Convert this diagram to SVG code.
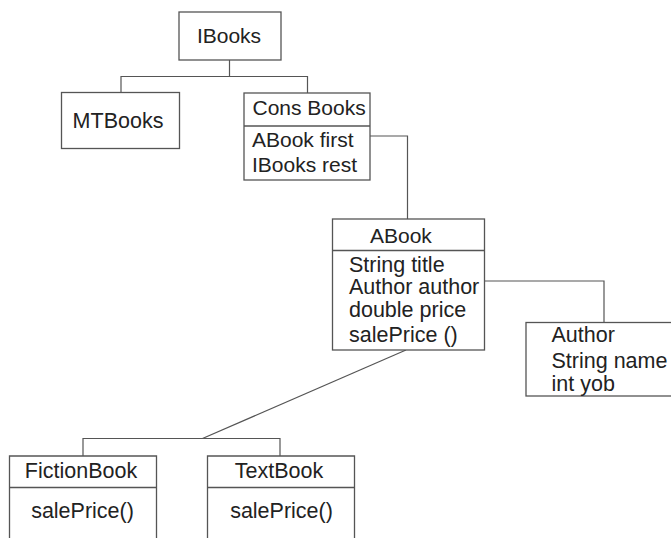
<svg xmlns="http://www.w3.org/2000/svg" width="671" height="538" viewBox="0 0 671 538">
  <style>
    .box { fill: #fff; stroke: #555; stroke-width: 1.3; }
    .sep { stroke: #555; stroke-width: 1.3; }
    .link { fill: none; stroke: #555; stroke-width: 1.2; }
    text { font-family: "Liberation Sans", Arial, sans-serif; font-size: 21px; fill: #222; }
    .c { text-anchor: middle; }
    .big { font-size: 21.5px; }
  </style>
  <rect width="671" height="538" fill="#fff"/>

  <g id="connectors">
    <!-- IBooks to its two variants -->
    <polyline class="link" points="229.5,60 229.5,76.5"/>
    <polyline class="link" points="121,92 121,76.5 307.5,76.5 307.5,93"/>
    <!-- ConsBooks.first to ABook -->
    <polyline class="link" points="370,136 407.5,136 407.5,219"/>
    <!-- ABook.author to Author -->
    <polyline class="link" points="484,281 604,281 604,322"/>
    <!-- ABook to its subclasses -->
    <line class="link" x1="406" y1="350" x2="202.5" y2="438.5"/>
    <polyline class="link" points="83,456 83,438.5 280,438.5 280,456"/>
  </g>

  <g id="IBooks">
    <rect class="box" x="179" y="12" width="102" height="48"/>
    <text class="c" x="229" y="43">IBooks</text>
  </g>

  <g id="MTBooks">
    <rect class="box" x="61.5" y="92.5" width="118" height="56"/>
    <text class="c big" x="118" y="128">MTBooks</text>
  </g>

  <g id="ConsBooks">
    <rect class="box" x="244" y="93" width="126" height="87"/>
    <line class="sep" x1="244" y1="126" x2="370" y2="126"/>
    <text x="252.5" y="115">Cons Books</text>
    <text x="252" y="146.5">ABook first</text>
    <text x="252" y="172">IBooks rest</text>
  </g>

  <g id="ABook">
    <rect class="box" x="332.5" y="219" width="152" height="131"/>
    <line class="sep" x1="332.5" y1="250.5" x2="484.5" y2="250.5"/>
    <text x="370" y="243">ABook</text>
    <text class="big" x="349" y="271.5">String title</text>
    <text class="big" x="349" y="294">Author author</text>
    <text class="big" x="349" y="316.5">double price</text>
    <text class="big" x="349" y="341.5">salePrice ()</text>
  </g>

  <g id="Author">
    <rect class="box" x="526" y="322.5" width="150" height="73.5"/>
    <text class="big" x="551.5" y="341.5">Author</text>
    <text class="big" x="551.5" y="368">String name</text>
    <text class="big" x="551.5" y="390.5">int yob</text>
  </g>

  <g id="FictionBook">
    <polyline class="box" points="9.5,540 9.5,456 156.5,456 156.5,540"/>
    <line class="sep" x1="9.5" y1="487.5" x2="156.5" y2="487.5"/>
    <text class="c big" x="81" y="478">FictionBook</text>
    <text class="c big" x="82.5" y="518">salePrice()</text>
  </g>

  <g id="TextBook">
    <polyline class="box" points="207.5,540 207.5,456 354.5,456 354.5,540"/>
    <line class="sep" x1="207.5" y1="487.5" x2="354.5" y2="487.5"/>
    <text class="c big" x="279" y="478">TextBook</text>
    <text class="c big" x="281.5" y="518">salePrice()</text>
  </g>
</svg>
